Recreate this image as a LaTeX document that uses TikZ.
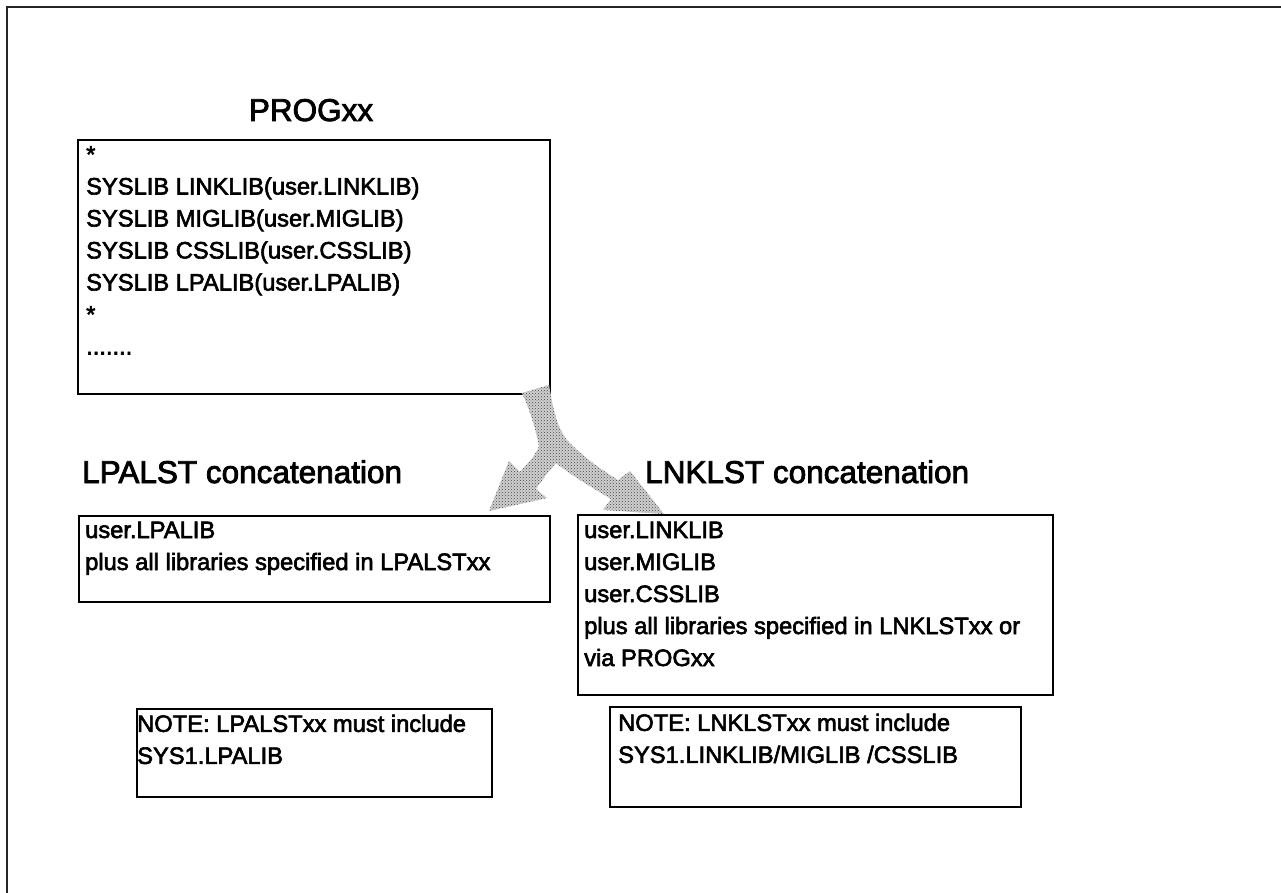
\documentclass[tikz,border=0pt]{standalone}
\usepackage{fontspec}
\setmainfont{Liberation Sans}
\newfontfamily\diagfont[FakeBold=2.6]{Liberation Sans}
\usetikzlibrary{patterns}

\tikzset{
  box/.style={draw=black, line width=2pt, rectangle, inner sep=0pt, anchor=north west},
  body/.style={anchor=north west, inner sep=0pt, align=left,
    font=\diagfont\fontsize{23.7}{32}\selectfont},
  heading/.style={inner sep=0pt, font=\diagfont\fontsize{31.5}{36}\selectfont},
  frame/.style={line width=2.5pt, draw=black!85},
  flow/.style={preaction={fill=black!18}, pattern=crosshatch dots, pattern color=black!75}
}

\begin{document}
\begin{tikzpicture}[x=1pt, y=-1pt]
\useasboundingbox (0,0) rectangle (1281,893);

% page frame (top and left edges)
\draw[frame] (1281,7) -- (7,7) -- (7,893);

% PROGxx member
\node[heading, anchor=base] (progtitle) at (311,121) {PROGxx};
\node[box, minimum width=472pt, minimum height=254pt] (prog) at (77,139) {};
\node[body] (progtxt) at (86,146) {*\\
SYSLIB LINKLIB(user.LINKLIB)\\
SYSLIB MIGLIB(user.MIGLIB)\\
SYSLIB CSSLIB(user.CSSLIB)\\
SYSLIB LPALIB(user.LPALIB)\\
*\\
.......};

% LPALST concatenation
\node[heading, anchor=base west] (lpatitle) at (82,483) {LPALST concatenation};
\node[box, minimum width=471pt, minimum height=86pt] (lpa) at (78,515) {};
\node[body] (lpatxt) at (85,521.5) {user.LPALIB\\
plus all libraries specified in LPALSTxx};

% LNKLST concatenation
\node[heading, anchor=base west] (lnktitle) at (645,483) {LNKLST concatenation};
\node[box, minimum width=475pt, minimum height=180pt] (lnk) at (577,514) {};
\node[body] (lnktxt) at (584,521.5) {user.LINKLIB\\
user.MIGLIB\\
user.CSSLIB\\
plus all libraries specified in LNKLSTxx or\\
via PROGxx};

% notes
\node[box, minimum width=355pt, minimum height=88pt] (notelpa) at (136,708) {};
\node[body] (notelpatxt) at (137,714.5) {NOTE: LPALSTxx must include\\
SYS1.LPALIB};

\node[box, minimum width=411pt, minimum height=100pt] (notelnk) at (609,706) {};
\node[body] (notelnktxt) at (618,713.5) {NOTE: LNKLSTxx must include\\
SYS1.LINKLIB/MIGLIB /CSSLIB};

% split arrow from PROGxx to both concatenations
\path[flow] (522,393) -- (549,385)
  .. controls (553,408) and (557,428) .. (567,440)
  .. controls (584,458) and (602,470) .. (618,480)
  -- (630,471) -- (664,514) -- (603,510) -- (611,499)
  .. controls (593,488) and (572,476) .. (556,463)
  .. controls (549,471) and (542,480) .. (536,489)
  -- (547,498) -- (489,511) -- (509,461) -- (520,472)
  .. controls (528,463) and (536,455) .. (539,446)
  .. controls (535,426) and (529,408) .. (522,393) -- cycle;
\end{tikzpicture}
\end{document}
